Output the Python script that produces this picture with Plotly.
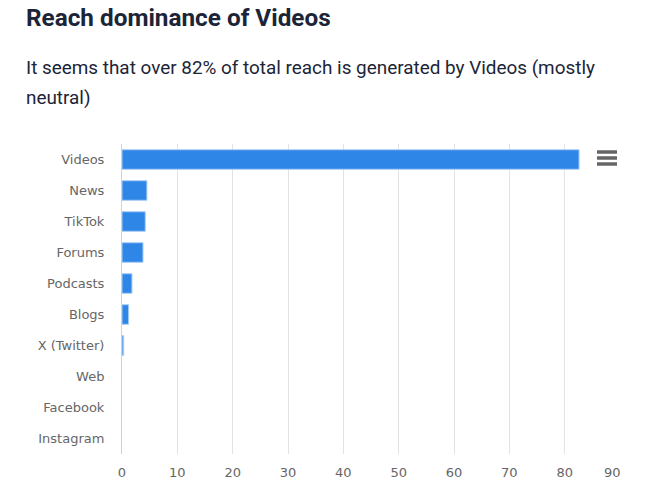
import plotly.graph_objects as go

categories = ["Videos", "News", "TikTok", "Forums", "Podcasts", "Blogs", "X (Twitter)", "Web", "Facebook", "Instagram"]
reach_values = [82.6, 4.5, 4.2, 3.8, 1.8, 1.2, 0.3, None, None, None]
tick_values = [0, 10, 20, 30, 40, 50, 60, 70, 80, 90]
tick_labels = ["0", "10", "20", "30", "40", "50", "60", "70", "80", ""]
last_tick_label = "90"
title_text = "Reach dominance of Videos"
subtitle_line1 = "It seems that over 82% of total reach is generated by Videos (mostly"
subtitle_line2 = "neutral)"

W, H = 646, 500
L, R, T, B = 121.5, 620, 144, 454


def px(x):
    return (x - L) / (R - L)


def py(y):
    return (B - y) / (B - T)


fig = go.Figure(go.Bar(
    y=categories, x=reach_values, orientation="h",
    marker=dict(color="#2e86e6", line=dict(color="#a9cdf5", width=1)),
    width=0.63, hoverinfo="x+y",
))
text_color = "#1b2537"
fig.update_layout(
    width=W, height=H, autosize=False, paper_bgcolor="white", plot_bgcolor="white",
    margin=dict(l=L, r=W - R, t=T, b=H - B), showlegend=False,
    font=dict(family="DejaVu Sans", color="#666666", size=13),
    xaxis=dict(range=[0, 90], tickvals=tick_values, ticktext=tick_labels, showgrid=True,
               gridcolor="#e3e3e6", gridwidth=1, zeroline=False, showline=False,
               ticks="outside", ticklen=6, tickcolor="rgba(0,0,0,0)",
               tickfont=dict(size=13, color="#666666")),
    yaxis=dict(autorange="reversed", showline=True, linecolor="#c5d3ea", linewidth=1, showgrid=False,
               ticks="outside", ticklen=14, tickcolor="rgba(0,0,0,0)", tickfont=dict(size=13, color="#666666")),
    annotations=[
        dict(text="<b>" + title_text + "</b>", xref="paper", yref="paper", x=px(25), y=py(18),
             xanchor="left", yanchor="middle", showarrow=False, xshift=-2,
             font=dict(family="Roboto", size=24.3, color=text_color)),
        dict(text=subtitle_line1, xref="paper", yref="paper", x=px(25), y=py(67),
             xanchor="left", yanchor="middle", showarrow=False, xshift=-2,
             font=dict(family="Roboto", size=18.9, color=text_color)),
        dict(text=subtitle_line2, xref="paper", yref="paper", x=px(25), y=py(98),
             xanchor="left", yanchor="middle", showarrow=False, xshift=-2,
             font=dict(family="Roboto", size=18.9, color=text_color)),
        dict(text=last_tick_label, xref="paper", yref="paper", x=px(612), y=py(472),
             xanchor="center", yanchor="middle", showarrow=False,
             font=dict(family="DejaVu Sans", size=13, color="#666666")),
    ],
    shapes=[
        dict(type="line", xref="paper", yref="paper", x0=px(597), x1=px(617), y0=py(yy), y1=py(yy),
             line=dict(color="#666666", width=3.5))
        for yy in (152, 158, 164)
    ],
)
fig.write_html("out.html", config=dict(displayModeBar=False),
               post_script="document.body.style.margin='0';")
